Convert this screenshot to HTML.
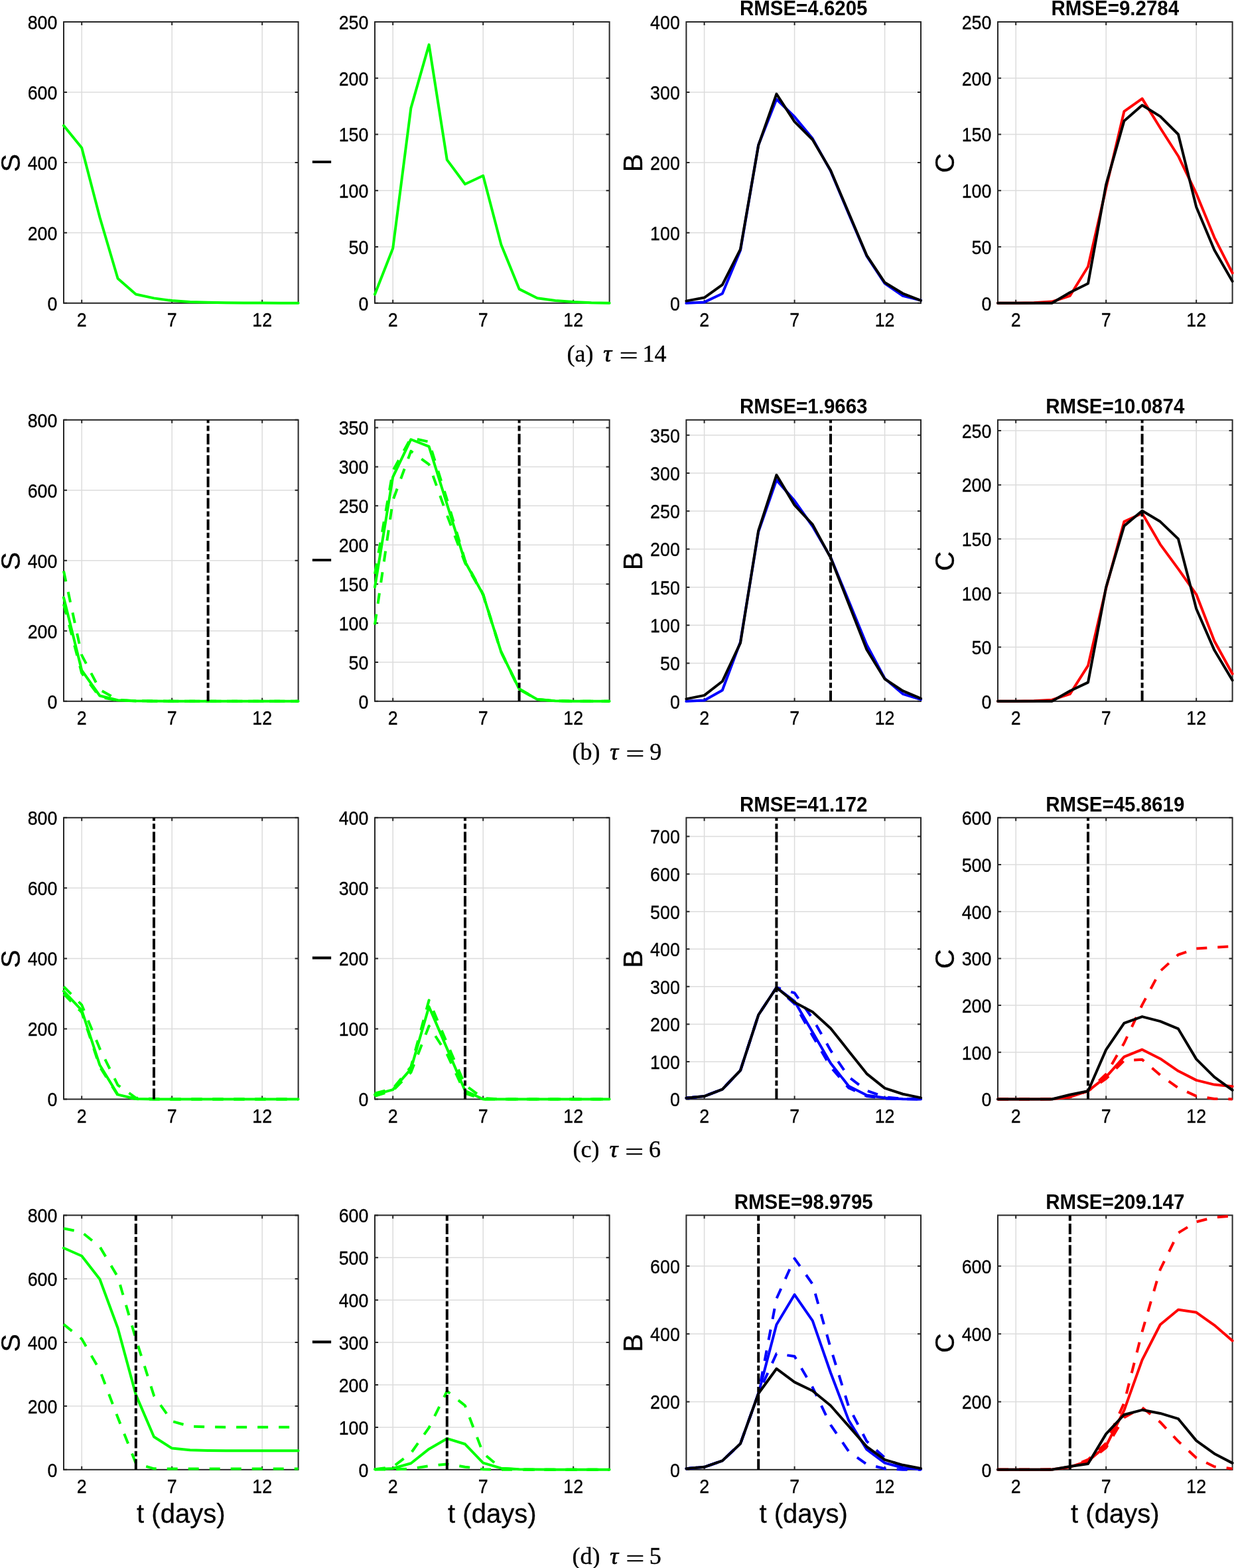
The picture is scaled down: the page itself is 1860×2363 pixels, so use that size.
<!DOCTYPE html>
<html><head><meta charset="utf-8"><title>Figure</title><style>html,body{margin:0;padding:0;background:#fff;}svg{display:block;}</style></head><body>
<svg width="1860" height="2363" viewBox="0 0 1860 2363" font-family="'Liberation Sans', Arial, Helvetica, sans-serif"><rect width="100%" height="100%" fill="#fff"/><g stroke="#dcdcdc" stroke-width="1.5"><line x1="123.2" y1="33" x2="123.2" y2="456.8"/><line x1="259.2" y1="33" x2="259.2" y2="456.8"/><line x1="395.2" y1="33" x2="395.2" y2="456.8"/><line x1="96" y1="350.85" x2="449.6" y2="350.85"/><line x1="96" y1="244.9" x2="449.6" y2="244.9"/><line x1="96" y1="138.95" x2="449.6" y2="138.95"/></g>
<g stroke="#262626" stroke-width="2" fill="none"><rect x="96" y="33" width="353.6" height="423.8" fill="none"/><path d="M123.2 456.8v-5M123.2 33v5M259.2 456.8v-5M259.2 33v5M395.2 456.8v-5M395.2 33v5M96 456.8h5M449.6 456.8h-5M96 350.85h5M449.6 350.85h-5M96 244.9h5M449.6 244.9h-5M96 138.95h5M449.6 138.95h-5M96 33h5M449.6 33h-5"/></g>
<polyline points="96,189.28 123.2,222.86 150.4,327.54 177.6,419.72 204.8,443.56 232,449.38 259.2,453.09 286.4,454.95 313.6,455.85 340.8,456.27 368,456.48 395.2,456.59 422.4,456.64 449.6,456.64" fill="none" stroke="#00ff00" stroke-width="4" stroke-linejoin="round" stroke-linecap="round"/>
<g font-size="26.8" fill="#000" stroke="#000" stroke-width="0.3"><text transform="translate(86.4 467.6) scale(1 1.07)" text-anchor="end">0</text><text transform="translate(86.4 361.65) scale(1 1.07)" text-anchor="end">200</text><text transform="translate(86.4 255.7) scale(1 1.07)" text-anchor="end">400</text><text transform="translate(86.4 149.75) scale(1 1.07)" text-anchor="end">600</text><text transform="translate(86.4 43.8) scale(1 1.07)" text-anchor="end">800</text><text transform="translate(123.2 491.9) scale(1 1.07)" text-anchor="middle">2</text><text transform="translate(259.2 491.9) scale(1 1.07)" text-anchor="middle">7</text><text transform="translate(395.2 491.9) scale(1 1.07)" text-anchor="middle">12</text></g>
<text x="0" y="0" transform="translate(30 245.7) rotate(-90)" text-anchor="middle" font-size="41" fill="#000" stroke="#000" stroke-width="0.3">S</text>
<g stroke="#dcdcdc" stroke-width="1.5"><line x1="592.2" y1="33" x2="592.2" y2="456.8"/><line x1="728.2" y1="33" x2="728.2" y2="456.8"/><line x1="864.2" y1="33" x2="864.2" y2="456.8"/><line x1="565" y1="372.04" x2="918.6" y2="372.04"/><line x1="565" y1="287.28" x2="918.6" y2="287.28"/><line x1="565" y1="202.52" x2="918.6" y2="202.52"/><line x1="565" y1="117.76" x2="918.6" y2="117.76"/></g>
<g stroke="#262626" stroke-width="2" fill="none"><rect x="565" y="33" width="353.6" height="423.8" fill="none"/><path d="M592.2 456.8v-5M592.2 33v5M728.2 456.8v-5M728.2 33v5M864.2 456.8v-5M864.2 33v5M565 456.8h5M918.6 456.8h-5M565 372.04h5M918.6 372.04h-5M565 287.28h5M918.6 287.28h-5M565 202.52h5M918.6 202.52h-5M565 117.76h5M918.6 117.76h-5M565 33h5M918.6 33h-5"/></g>
<polyline points="565,443.58 592.2,374.24 619.4,162.85 646.6,67.41 673.8,240.83 701,277.45 728.2,264.73 755.4,368.65 782.6,435.61 809.8,449.17 837,452.9 864.2,455.1 891.4,456.29 918.6,456.63" fill="none" stroke="#00ff00" stroke-width="4" stroke-linejoin="round" stroke-linecap="round"/>
<g font-size="26.8" fill="#000" stroke="#000" stroke-width="0.3"><text transform="translate(555.4 467.6) scale(1 1.07)" text-anchor="end">0</text><text transform="translate(555.4 382.84) scale(1 1.07)" text-anchor="end">50</text><text transform="translate(555.4 298.08) scale(1 1.07)" text-anchor="end">100</text><text transform="translate(555.4 213.32) scale(1 1.07)" text-anchor="end">150</text><text transform="translate(555.4 128.56) scale(1 1.07)" text-anchor="end">200</text><text transform="translate(555.4 43.8) scale(1 1.07)" text-anchor="end">250</text><text transform="translate(592.2 491.9) scale(1 1.07)" text-anchor="middle">2</text><text transform="translate(728.2 491.9) scale(1 1.07)" text-anchor="middle">7</text><text transform="translate(864.2 491.9) scale(1 1.07)" text-anchor="middle">12</text></g>
<text x="0" y="0" transform="translate(499 244.1) rotate(-90)" text-anchor="middle" font-size="41" fill="#000" stroke="#000" stroke-width="0.3">I</text>
<g stroke="#dcdcdc" stroke-width="1.5"><line x1="1061.6" y1="33" x2="1061.6" y2="456.8"/><line x1="1197.6" y1="33" x2="1197.6" y2="456.8"/><line x1="1333.6" y1="33" x2="1333.6" y2="456.8"/><line x1="1034.4" y1="350.85" x2="1388" y2="350.85"/><line x1="1034.4" y1="244.9" x2="1388" y2="244.9"/><line x1="1034.4" y1="138.95" x2="1388" y2="138.95"/></g>
<g stroke="#262626" stroke-width="2" fill="none"><rect x="1034.4" y="33" width="353.6" height="423.8" fill="none"/><path d="M1061.6 456.8v-5M1061.6 33v5M1197.6 456.8v-5M1197.6 33v5M1333.6 456.8v-5M1333.6 33v5M1034.4 456.8h5M1388 456.8h-5M1034.4 350.85h5M1388 350.85h-5M1034.4 244.9h5M1388 244.9h-5M1034.4 138.95h5M1388 138.95h-5M1034.4 33h5M1388 33h-5"/></g>
<polyline points="1034.4,456.8 1061.6,455.42 1088.8,442.5 1116,377.34 1143.2,218.41 1170.4,149.55 1197.6,176.03 1224.8,208.88 1252,257.61 1279.2,322.24 1306.4,385.81 1333.6,427.13 1360.8,445.78 1388,452.67" fill="none" stroke="#0000ff" stroke-width="4" stroke-linejoin="round" stroke-linecap="round"/>
<polyline points="1034.4,453.62 1061.6,448.54 1088.8,429.04 1116,375.54 1143.2,218.94 1170.4,141.6 1197.6,183.45 1224.8,210.47 1252,256.77 1279.2,320.76 1306.4,384.86 1333.6,425.76 1360.8,442.28 1388,452.88" fill="none" stroke="#000000" stroke-width="4" stroke-linejoin="round" stroke-linecap="round"/>
<g font-size="26.8" fill="#000" stroke="#000" stroke-width="0.3"><text transform="translate(1024.8 467.6) scale(1 1.07)" text-anchor="end">0</text><text transform="translate(1024.8 361.65) scale(1 1.07)" text-anchor="end">100</text><text transform="translate(1024.8 255.7) scale(1 1.07)" text-anchor="end">200</text><text transform="translate(1024.8 149.75) scale(1 1.07)" text-anchor="end">300</text><text transform="translate(1024.8 43.8) scale(1 1.07)" text-anchor="end">400</text><text transform="translate(1061.6 491.9) scale(1 1.07)" text-anchor="middle">2</text><text transform="translate(1197.6 491.9) scale(1 1.07)" text-anchor="middle">7</text><text transform="translate(1333.6 491.9) scale(1 1.07)" text-anchor="middle">12</text></g>
<text x="0" y="0" transform="translate(968.4 245.7) rotate(-90)" text-anchor="middle" font-size="41" fill="#000" stroke="#000" stroke-width="0.3">B</text>
<text transform="translate(1211.2 23.2) scale(1 1.05)" text-anchor="middle" font-size="29.5" font-weight="bold" fill="#000">RMSE=4.6205</text>
<g stroke="#dcdcdc" stroke-width="1.5"><line x1="1531.2" y1="33" x2="1531.2" y2="456.8"/><line x1="1667.2" y1="33" x2="1667.2" y2="456.8"/><line x1="1803.2" y1="33" x2="1803.2" y2="456.8"/><line x1="1504" y1="372.04" x2="1857.6" y2="372.04"/><line x1="1504" y1="287.28" x2="1857.6" y2="287.28"/><line x1="1504" y1="202.52" x2="1857.6" y2="202.52"/><line x1="1504" y1="117.76" x2="1857.6" y2="117.76"/></g>
<g stroke="#262626" stroke-width="2" fill="none"><rect x="1504" y="33" width="353.6" height="423.8" fill="none"/><path d="M1531.2 456.8v-5M1531.2 33v5M1667.2 456.8v-5M1667.2 33v5M1803.2 456.8v-5M1803.2 33v5M1504 456.8h5M1857.6 456.8h-5M1504 372.04h5M1857.6 372.04h-5M1504 287.28h5M1857.6 287.28h-5M1504 202.52h5M1857.6 202.52h-5M1504 117.76h5M1857.6 117.76h-5M1504 33h5M1857.6 33h-5"/></g>
<polyline points="1504,456.8 1531.2,456.8 1558.4,456.29 1585.6,454.6 1612.8,445.78 1640,401.71 1667.2,283.38 1694.4,167.77 1721.6,148.61 1748.8,192.69 1776,235.24 1803.2,291.69 1830.4,357.8 1857.6,411.37" fill="none" stroke="#ff0000" stroke-width="4" stroke-linejoin="round" stroke-linecap="round"/>
<polyline points="1504,456.8 1531.2,456.8 1558.4,456.8 1585.6,456.8 1612.8,440.7 1640,427.3 1667.2,277.96 1694.4,182.18 1721.6,158.44 1748.8,175.4 1776,202.52 1803.2,312.03 1830.4,376.79 1857.6,423.91" fill="none" stroke="#000000" stroke-width="4" stroke-linejoin="round" stroke-linecap="round"/>
<g font-size="26.8" fill="#000" stroke="#000" stroke-width="0.3"><text transform="translate(1494.4 467.6) scale(1 1.07)" text-anchor="end">0</text><text transform="translate(1494.4 382.84) scale(1 1.07)" text-anchor="end">50</text><text transform="translate(1494.4 298.08) scale(1 1.07)" text-anchor="end">100</text><text transform="translate(1494.4 213.32) scale(1 1.07)" text-anchor="end">150</text><text transform="translate(1494.4 128.56) scale(1 1.07)" text-anchor="end">200</text><text transform="translate(1494.4 43.8) scale(1 1.07)" text-anchor="end">250</text><text transform="translate(1531.2 491.9) scale(1 1.07)" text-anchor="middle">2</text><text transform="translate(1667.2 491.9) scale(1 1.07)" text-anchor="middle">7</text><text transform="translate(1803.2 491.9) scale(1 1.07)" text-anchor="middle">12</text></g>
<text x="0" y="0" transform="translate(1438 245.7) rotate(-90)" text-anchor="middle" font-size="41" fill="#000" stroke="#000" stroke-width="0.3">C</text>
<text transform="translate(1680.8 23.2) scale(1 1.05)" text-anchor="middle" font-size="29.5" font-weight="bold" fill="#000">RMSE=9.2784</text>
<g stroke="#dcdcdc" stroke-width="1.5"><line x1="123.2" y1="632.8" x2="123.2" y2="1056.8"/><line x1="259.2" y1="632.8" x2="259.2" y2="1056.8"/><line x1="395.2" y1="632.8" x2="395.2" y2="1056.8"/><line x1="96" y1="950.8" x2="449.6" y2="950.8"/><line x1="96" y1="844.8" x2="449.6" y2="844.8"/><line x1="96" y1="738.8" x2="449.6" y2="738.8"/></g>
<g stroke="#262626" stroke-width="2" fill="none"><rect x="96" y="632.8" width="353.6" height="424" fill="none"/><path d="M123.2 1056.8v-5M123.2 632.8v5M259.2 1056.8v-5M259.2 632.8v5M395.2 1056.8v-5M395.2 632.8v5M96 1056.8h5M449.6 1056.8h-5M96 950.8h5M449.6 950.8h-5M96 844.8h5M449.6 844.8h-5M96 738.8h5M449.6 738.8h-5M96 632.8h5M449.6 632.8h-5"/></g>
<polyline points="96,860.7 123.2,987.37 150.4,1039.31 177.6,1054.68 204.8,1056.27 232,1056.53 259.2,1056.64 286.4,1056.69 313.6,1056.75 340.8,1056.8 368,1056.8 395.2,1056.8 422.4,1056.8 449.6,1056.8" fill="none" stroke="#00ff00" stroke-width="4" stroke-linejoin="round" stroke-dasharray="16 16"/>
<polyline points="96,910.52 123.2,1014.4 150.4,1050.44 177.6,1055.47 204.8,1056.38 232,1056.64 259.2,1056.69 286.4,1056.75 313.6,1056.8 340.8,1056.8 368,1056.8 395.2,1056.8 422.4,1056.8 449.6,1056.8" fill="none" stroke="#00ff00" stroke-width="4" stroke-linejoin="round" stroke-dasharray="16 16"/>
<polyline points="96,900.45 123.2,1010.16 150.4,1048.48 177.6,1055.21 204.8,1056.27 232,1056.53 259.2,1056.64 286.4,1056.69 313.6,1056.75 340.8,1056.8 368,1056.8 395.2,1056.8 422.4,1056.8 449.6,1056.8" fill="none" stroke="#00ff00" stroke-width="4" stroke-linejoin="round" stroke-linecap="round"/>
<line x1="313.6" y1="1056.8" x2="313.6" y2="632.8" stroke="#000" stroke-width="4" stroke-dasharray="16 4.13 8 4.13"/>
<g font-size="26.8" fill="#000" stroke="#000" stroke-width="0.3"><text transform="translate(86.4 1067.6) scale(1 1.07)" text-anchor="end">0</text><text transform="translate(86.4 961.6) scale(1 1.07)" text-anchor="end">200</text><text transform="translate(86.4 855.6) scale(1 1.07)" text-anchor="end">400</text><text transform="translate(86.4 749.6) scale(1 1.07)" text-anchor="end">600</text><text transform="translate(86.4 643.6) scale(1 1.07)" text-anchor="end">800</text><text transform="translate(123.2 1091.9) scale(1 1.07)" text-anchor="middle">2</text><text transform="translate(259.2 1091.9) scale(1 1.07)" text-anchor="middle">7</text><text transform="translate(395.2 1091.9) scale(1 1.07)" text-anchor="middle">12</text></g>
<text x="0" y="0" transform="translate(30 845.6) rotate(-90)" text-anchor="middle" font-size="41" fill="#000" stroke="#000" stroke-width="0.3">S</text>
<g stroke="#dcdcdc" stroke-width="1.5"><line x1="592.2" y1="632.8" x2="592.2" y2="1056.8"/><line x1="728.2" y1="632.8" x2="728.2" y2="1056.8"/><line x1="864.2" y1="632.8" x2="864.2" y2="1056.8"/><line x1="565" y1="997.91" x2="918.6" y2="997.91"/><line x1="565" y1="939.02" x2="918.6" y2="939.02"/><line x1="565" y1="880.13" x2="918.6" y2="880.13"/><line x1="565" y1="821.24" x2="918.6" y2="821.24"/><line x1="565" y1="762.36" x2="918.6" y2="762.36"/><line x1="565" y1="703.47" x2="918.6" y2="703.47"/><line x1="565" y1="644.58" x2="918.6" y2="644.58"/></g>
<g stroke="#262626" stroke-width="2" fill="none"><rect x="565" y="632.8" width="353.6" height="424" fill="none"/><path d="M592.2 1056.8v-5M592.2 632.8v5M728.2 1056.8v-5M728.2 632.8v5M864.2 1056.8v-5M864.2 632.8v5M565 1056.8h5M918.6 1056.8h-5M565 997.91h5M918.6 997.91h-5M565 939.02h5M918.6 939.02h-5M565 880.13h5M918.6 880.13h-5M565 821.24h5M918.6 821.24h-5M565 762.36h5M918.6 762.36h-5M565 703.47h5M918.6 703.47h-5M565 644.58h5M918.6 644.58h-5"/></g>
<polyline points="565,864.82 592.2,709.36 619.4,659.89 646.6,665.78 673.8,752.93 701,844.8 728.2,895.44 755.4,982.01 782.6,1037.96 809.8,1053.86 837,1056.21 864.2,1056.68 891.4,1056.8 918.6,1056.8" fill="none" stroke="#00ff00" stroke-width="4" stroke-linejoin="round" stroke-dasharray="16 16"/>
<polyline points="565,941.38 592.2,754.11 619.4,679.91 646.6,699.93 673.8,776.49 701,848.33 728.2,896.62 755.4,983.19 782.6,1038.9 809.8,1054.21 837,1056.21 864.2,1056.68 891.4,1056.8 918.6,1056.8" fill="none" stroke="#00ff00" stroke-width="4" stroke-linejoin="round" stroke-dasharray="16 16"/>
<polyline points="565,884.84 592.2,718.78 619.4,662.24 646.6,672.84 673.8,760 701,846.57 728.2,896.03 755.4,982.6 782.6,1038.43 809.8,1054.09 837,1056.21 864.2,1056.68 891.4,1056.8 918.6,1056.8" fill="none" stroke="#00ff00" stroke-width="4" stroke-linejoin="round" stroke-linecap="round"/>
<line x1="782.6" y1="1056.8" x2="782.6" y2="632.8" stroke="#000" stroke-width="4" stroke-dasharray="16 4.13 8 4.13"/>
<g font-size="26.8" fill="#000" stroke="#000" stroke-width="0.3"><text transform="translate(555.4 1067.6) scale(1 1.07)" text-anchor="end">0</text><text transform="translate(555.4 1008.71) scale(1 1.07)" text-anchor="end">50</text><text transform="translate(555.4 949.82) scale(1 1.07)" text-anchor="end">100</text><text transform="translate(555.4 890.93) scale(1 1.07)" text-anchor="end">150</text><text transform="translate(555.4 832.04) scale(1 1.07)" text-anchor="end">200</text><text transform="translate(555.4 773.16) scale(1 1.07)" text-anchor="end">250</text><text transform="translate(555.4 714.27) scale(1 1.07)" text-anchor="end">300</text><text transform="translate(555.4 655.38) scale(1 1.07)" text-anchor="end">350</text><text transform="translate(592.2 1091.9) scale(1 1.07)" text-anchor="middle">2</text><text transform="translate(728.2 1091.9) scale(1 1.07)" text-anchor="middle">7</text><text transform="translate(864.2 1091.9) scale(1 1.07)" text-anchor="middle">12</text></g>
<text x="0" y="0" transform="translate(499 844) rotate(-90)" text-anchor="middle" font-size="41" fill="#000" stroke="#000" stroke-width="0.3">I</text>
<g stroke="#dcdcdc" stroke-width="1.5"><line x1="1061.6" y1="632.8" x2="1061.6" y2="1056.8"/><line x1="1197.6" y1="632.8" x2="1197.6" y2="1056.8"/><line x1="1333.6" y1="632.8" x2="1333.6" y2="1056.8"/><line x1="1034.4" y1="999.5" x2="1388" y2="999.5"/><line x1="1034.4" y1="942.21" x2="1388" y2="942.21"/><line x1="1034.4" y1="884.91" x2="1388" y2="884.91"/><line x1="1034.4" y1="827.61" x2="1388" y2="827.61"/><line x1="1034.4" y1="770.31" x2="1388" y2="770.31"/><line x1="1034.4" y1="713.02" x2="1388" y2="713.02"/><line x1="1034.4" y1="655.72" x2="1388" y2="655.72"/></g>
<g stroke="#262626" stroke-width="2" fill="none"><rect x="1034.4" y="632.8" width="353.6" height="424" fill="none"/><path d="M1061.6 1056.8v-5M1061.6 632.8v5M1197.6 1056.8v-5M1197.6 632.8v5M1333.6 1056.8v-5M1333.6 632.8v5M1034.4 1056.8h5M1388 1056.8h-5M1034.4 999.5h5M1388 999.5h-5M1034.4 942.21h5M1388 942.21h-5M1034.4 884.91h5M1388 884.91h-5M1034.4 827.61h5M1388 827.61h-5M1034.4 770.31h5M1388 770.31h-5M1034.4 713.02h5M1388 713.02h-5M1034.4 655.72h5M1388 655.72h-5"/></g>
<polyline points="1034.4,1056.8 1061.6,1055.42 1088.8,1040.3 1116,967.42 1143.2,801.25 1170.4,723.33 1197.6,754.61 1224.8,793.23 1252,839.76 1279.2,905.54 1306.4,971.66 1333.6,1022.42 1360.8,1045.8 1388,1054.05" fill="none" stroke="#0000ff" stroke-width="4" stroke-linejoin="round" stroke-linecap="round"/>
<polyline points="1034.4,1053.36 1061.6,1047.86 1088.8,1026.78 1116,968.91 1143.2,799.54 1170.4,715.88 1197.6,761.15 1224.8,790.37 1252,840.45 1279.2,909.66 1306.4,978.99 1333.6,1023.22 1360.8,1041.1 1388,1052.56" fill="none" stroke="#000000" stroke-width="4" stroke-linejoin="round" stroke-linecap="round"/>
<line x1="1252" y1="1056.8" x2="1252" y2="632.8" stroke="#000" stroke-width="4" stroke-dasharray="16 4.13 8 4.13"/>
<g font-size="26.8" fill="#000" stroke="#000" stroke-width="0.3"><text transform="translate(1024.8 1067.6) scale(1 1.07)" text-anchor="end">0</text><text transform="translate(1024.8 1010.3) scale(1 1.07)" text-anchor="end">50</text><text transform="translate(1024.8 953.01) scale(1 1.07)" text-anchor="end">100</text><text transform="translate(1024.8 895.71) scale(1 1.07)" text-anchor="end">150</text><text transform="translate(1024.8 838.41) scale(1 1.07)" text-anchor="end">200</text><text transform="translate(1024.8 781.11) scale(1 1.07)" text-anchor="end">250</text><text transform="translate(1024.8 723.82) scale(1 1.07)" text-anchor="end">300</text><text transform="translate(1024.8 666.52) scale(1 1.07)" text-anchor="end">350</text><text transform="translate(1061.6 1091.9) scale(1 1.07)" text-anchor="middle">2</text><text transform="translate(1197.6 1091.9) scale(1 1.07)" text-anchor="middle">7</text><text transform="translate(1333.6 1091.9) scale(1 1.07)" text-anchor="middle">12</text></g>
<text x="0" y="0" transform="translate(968.4 845.6) rotate(-90)" text-anchor="middle" font-size="41" fill="#000" stroke="#000" stroke-width="0.3">B</text>
<text transform="translate(1211.2 623) scale(1 1.05)" text-anchor="middle" font-size="29.5" font-weight="bold" fill="#000">RMSE=1.9663</text>
<g stroke="#dcdcdc" stroke-width="1.5"><line x1="1531.2" y1="632.8" x2="1531.2" y2="1056.8"/><line x1="1667.2" y1="632.8" x2="1667.2" y2="1056.8"/><line x1="1803.2" y1="632.8" x2="1803.2" y2="1056.8"/><line x1="1504" y1="975.26" x2="1857.6" y2="975.26"/><line x1="1504" y1="893.72" x2="1857.6" y2="893.72"/><line x1="1504" y1="812.18" x2="1857.6" y2="812.18"/><line x1="1504" y1="730.65" x2="1857.6" y2="730.65"/><line x1="1504" y1="649.11" x2="1857.6" y2="649.11"/></g>
<g stroke="#262626" stroke-width="2" fill="none"><rect x="1504" y="632.8" width="353.6" height="424" fill="none"/><path d="M1531.2 1056.8v-5M1531.2 632.8v5M1667.2 1056.8v-5M1667.2 632.8v5M1803.2 1056.8v-5M1803.2 632.8v5M1504 1056.8h5M1857.6 1056.8h-5M1504 975.26h5M1857.6 975.26h-5M1504 893.72h5M1857.6 893.72h-5M1504 812.18h5M1857.6 812.18h-5M1504 730.65h5M1857.6 730.65h-5M1504 649.11h5M1857.6 649.11h-5"/></g>
<polyline points="1504,1056.8 1531.2,1056.8 1558.4,1056.31 1585.6,1054.68 1612.8,1045.87 1640,1003.15 1667.2,886.22 1694.4,786.09 1721.6,773.54 1748.8,820.34 1776,857.36 1803.2,895.84 1830.4,965.97 1857.6,1015.54" fill="none" stroke="#ff0000" stroke-width="4" stroke-linejoin="round" stroke-linecap="round"/>
<polyline points="1504,1056.8 1531.2,1056.8 1558.4,1056.8 1585.6,1056.8 1612.8,1041.31 1640,1028.42 1667.2,884.75 1694.4,792.62 1721.6,769.78 1748.8,786.09 1776,812.18 1803.2,917.53 1830.4,979.83 1857.6,1025.16" fill="none" stroke="#000000" stroke-width="4" stroke-linejoin="round" stroke-linecap="round"/>
<line x1="1721.6" y1="1056.8" x2="1721.6" y2="632.8" stroke="#000" stroke-width="4" stroke-dasharray="16 4.13 8 4.13"/>
<g font-size="26.8" fill="#000" stroke="#000" stroke-width="0.3"><text transform="translate(1494.4 1067.6) scale(1 1.07)" text-anchor="end">0</text><text transform="translate(1494.4 986.06) scale(1 1.07)" text-anchor="end">50</text><text transform="translate(1494.4 904.52) scale(1 1.07)" text-anchor="end">100</text><text transform="translate(1494.4 822.98) scale(1 1.07)" text-anchor="end">150</text><text transform="translate(1494.4 741.45) scale(1 1.07)" text-anchor="end">200</text><text transform="translate(1494.4 659.91) scale(1 1.07)" text-anchor="end">250</text><text transform="translate(1531.2 1091.9) scale(1 1.07)" text-anchor="middle">2</text><text transform="translate(1667.2 1091.9) scale(1 1.07)" text-anchor="middle">7</text><text transform="translate(1803.2 1091.9) scale(1 1.07)" text-anchor="middle">12</text></g>
<text x="0" y="0" transform="translate(1438 845.6) rotate(-90)" text-anchor="middle" font-size="41" fill="#000" stroke="#000" stroke-width="0.3">C</text>
<text transform="translate(1680.8 623) scale(1 1.05)" text-anchor="middle" font-size="29.5" font-weight="bold" fill="#000">RMSE=10.0874</text>
<g stroke="#dcdcdc" stroke-width="1.5"><line x1="123.2" y1="1232.3" x2="123.2" y2="1656.5"/><line x1="259.2" y1="1232.3" x2="259.2" y2="1656.5"/><line x1="395.2" y1="1232.3" x2="395.2" y2="1656.5"/><line x1="96" y1="1550.45" x2="449.6" y2="1550.45"/><line x1="96" y1="1444.4" x2="449.6" y2="1444.4"/><line x1="96" y1="1338.35" x2="449.6" y2="1338.35"/></g>
<g stroke="#262626" stroke-width="2" fill="none"><rect x="96" y="1232.3" width="353.6" height="424.2" fill="none"/><path d="M123.2 1656.5v-5M123.2 1232.3v5M259.2 1656.5v-5M259.2 1232.3v5M395.2 1656.5v-5M395.2 1232.3v5M96 1656.5h5M449.6 1656.5h-5M96 1550.45h5M449.6 1550.45h-5M96 1444.4h5M449.6 1444.4h-5M96 1338.35h5M449.6 1338.35h-5M96 1232.3h5M449.6 1232.3h-5"/></g>
<polyline points="96,1486.82 123.2,1514.39 150.4,1580.3 177.6,1635.29 204.8,1654.59 232,1656.23 259.2,1656.5 286.4,1656.5 313.6,1656.5 340.8,1656.5 368,1656.5 395.2,1656.5 422.4,1656.5 449.6,1656.5" fill="none" stroke="#00ff00" stroke-width="4" stroke-linejoin="round" stroke-dasharray="16 16"/>
<polyline points="96,1497.96 123.2,1525.53 150.4,1607.72 177.6,1650.67 204.8,1656.08 232,1656.5 259.2,1656.5 286.4,1656.5 313.6,1656.5 340.8,1656.5 368,1656.5 395.2,1656.5 422.4,1656.5 449.6,1656.5" fill="none" stroke="#00ff00" stroke-width="4" stroke-linejoin="round" stroke-dasharray="16 16"/>
<polyline points="96,1493.71 123.2,1522.51 150.4,1605.07 177.6,1649.61 204.8,1655.97 232,1656.5 259.2,1656.5 286.4,1656.5 313.6,1656.5 340.8,1656.5 368,1656.5 395.2,1656.5 422.4,1656.5 449.6,1656.5" fill="none" stroke="#00ff00" stroke-width="4" stroke-linejoin="round" stroke-linecap="round"/>
<line x1="232" y1="1656.5" x2="232" y2="1232.3" stroke="#000" stroke-width="4" stroke-dasharray="16 4.13 8 4.13"/>
<g font-size="26.8" fill="#000" stroke="#000" stroke-width="0.3"><text transform="translate(86.4 1667.3) scale(1 1.07)" text-anchor="end">0</text><text transform="translate(86.4 1561.25) scale(1 1.07)" text-anchor="end">200</text><text transform="translate(86.4 1455.2) scale(1 1.07)" text-anchor="end">400</text><text transform="translate(86.4 1349.15) scale(1 1.07)" text-anchor="end">600</text><text transform="translate(86.4 1243.1) scale(1 1.07)" text-anchor="end">800</text><text transform="translate(123.2 1691.6) scale(1 1.07)" text-anchor="middle">2</text><text transform="translate(259.2 1691.6) scale(1 1.07)" text-anchor="middle">7</text><text transform="translate(395.2 1691.6) scale(1 1.07)" text-anchor="middle">12</text></g>
<text x="0" y="0" transform="translate(30 1445.2) rotate(-90)" text-anchor="middle" font-size="41" fill="#000" stroke="#000" stroke-width="0.3">S</text>
<g stroke="#dcdcdc" stroke-width="1.5"><line x1="592.2" y1="1232.3" x2="592.2" y2="1656.5"/><line x1="728.2" y1="1232.3" x2="728.2" y2="1656.5"/><line x1="864.2" y1="1232.3" x2="864.2" y2="1656.5"/><line x1="565" y1="1550.45" x2="918.6" y2="1550.45"/><line x1="565" y1="1444.4" x2="918.6" y2="1444.4"/><line x1="565" y1="1338.35" x2="918.6" y2="1338.35"/></g>
<g stroke="#262626" stroke-width="2" fill="none"><rect x="565" y="1232.3" width="353.6" height="424.2" fill="none"/><path d="M592.2 1656.5v-5M592.2 1232.3v5M728.2 1656.5v-5M728.2 1232.3v5M864.2 1656.5v-5M864.2 1232.3v5M565 1656.5h5M918.6 1656.5h-5M565 1550.45h5M918.6 1550.45h-5M565 1444.4h5M918.6 1444.4h-5M565 1338.35h5M918.6 1338.35h-5M565 1232.3h5M918.6 1232.3h-5"/></g>
<polyline points="565,1647.7 592.2,1640.59 619.4,1607.72 646.6,1507.39 673.8,1572.08 701,1635.29 728.2,1655.12 755.4,1656.5 782.6,1656.5 809.8,1656.5 837,1656.5 864.2,1656.5 891.4,1656.5 918.6,1656.5" fill="none" stroke="#00ff00" stroke-width="4" stroke-linejoin="round" stroke-dasharray="16 16"/>
<polyline points="565,1651.83 592.2,1643.56 619.4,1616.2 646.6,1546.21 673.8,1588.63 701,1647.7 728.2,1656.5 755.4,1656.5 782.6,1656.5 809.8,1656.5 837,1656.5 864.2,1656.5 891.4,1656.5 918.6,1656.5" fill="none" stroke="#00ff00" stroke-width="4" stroke-linejoin="round" stroke-dasharray="16 16"/>
<polyline points="565,1649.61 592.2,1642.18 619.4,1610.9 646.6,1517.04 673.8,1580.14 701,1643.77 728.2,1656.5 755.4,1656.5 782.6,1656.5 809.8,1656.5 837,1656.5 864.2,1656.5 891.4,1656.5 918.6,1656.5" fill="none" stroke="#00ff00" stroke-width="4" stroke-linejoin="round" stroke-linecap="round"/>
<line x1="701" y1="1656.5" x2="701" y2="1232.3" stroke="#000" stroke-width="4" stroke-dasharray="16 4.13 8 4.13"/>
<g font-size="26.8" fill="#000" stroke="#000" stroke-width="0.3"><text transform="translate(555.4 1667.3) scale(1 1.07)" text-anchor="end">0</text><text transform="translate(555.4 1561.25) scale(1 1.07)" text-anchor="end">100</text><text transform="translate(555.4 1455.2) scale(1 1.07)" text-anchor="end">200</text><text transform="translate(555.4 1349.15) scale(1 1.07)" text-anchor="end">300</text><text transform="translate(555.4 1243.1) scale(1 1.07)" text-anchor="end">400</text><text transform="translate(592.2 1691.6) scale(1 1.07)" text-anchor="middle">2</text><text transform="translate(728.2 1691.6) scale(1 1.07)" text-anchor="middle">7</text><text transform="translate(864.2 1691.6) scale(1 1.07)" text-anchor="middle">12</text></g>
<text x="0" y="0" transform="translate(499 1443.6) rotate(-90)" text-anchor="middle" font-size="41" fill="#000" stroke="#000" stroke-width="0.3">I</text>
<g stroke="#dcdcdc" stroke-width="1.5"><line x1="1061.6" y1="1232.3" x2="1061.6" y2="1656.5"/><line x1="1197.6" y1="1232.3" x2="1197.6" y2="1656.5"/><line x1="1333.6" y1="1232.3" x2="1333.6" y2="1656.5"/><line x1="1034.4" y1="1599.94" x2="1388" y2="1599.94"/><line x1="1034.4" y1="1543.38" x2="1388" y2="1543.38"/><line x1="1034.4" y1="1486.82" x2="1388" y2="1486.82"/><line x1="1034.4" y1="1430.26" x2="1388" y2="1430.26"/><line x1="1034.4" y1="1373.7" x2="1388" y2="1373.7"/><line x1="1034.4" y1="1317.14" x2="1388" y2="1317.14"/><line x1="1034.4" y1="1260.58" x2="1388" y2="1260.58"/></g>
<g stroke="#262626" stroke-width="2" fill="none"><rect x="1034.4" y="1232.3" width="353.6" height="424.2" fill="none"/><path d="M1061.6 1656.5v-5M1061.6 1232.3v5M1197.6 1656.5v-5M1197.6 1232.3v5M1333.6 1656.5v-5M1333.6 1232.3v5M1034.4 1656.5h5M1388 1656.5h-5M1034.4 1599.94h5M1388 1599.94h-5M1034.4 1543.38h5M1388 1543.38h-5M1034.4 1486.82h5M1388 1486.82h-5M1034.4 1430.26h5M1388 1430.26h-5M1034.4 1373.7h5M1388 1373.7h-5M1034.4 1317.14h5M1388 1317.14h-5M1034.4 1260.58h5M1388 1260.58h-5"/></g>
<polyline points="1034.4,1654.8 1061.6,1652.09 1088.8,1641.68 1116,1613.12 1143.2,1529.52 1170.4,1488.23 1197.6,1496.44 1224.8,1534.9 1252,1582.97 1279.2,1622.96 1306.4,1643.55 1333.6,1653.22 1360.8,1655.93 1388,1656.39" fill="none" stroke="#0000ff" stroke-width="4" stroke-linejoin="round" stroke-dasharray="16 16"/>
<polyline points="1034.4,1654.8 1061.6,1652.09 1088.8,1641.68 1116,1613.12 1143.2,1529.52 1170.4,1488.23 1197.6,1512.84 1224.8,1560.91 1252,1607.86 1279.2,1639.53 1306.4,1651.98 1333.6,1655.37 1360.8,1656.33 1388,1656.5" fill="none" stroke="#0000ff" stroke-width="4" stroke-linejoin="round" stroke-dasharray="16 16"/>
<polyline points="1034.4,1654.8 1061.6,1652.09 1088.8,1641.68 1116,1613.12 1143.2,1529.52 1170.4,1488.23 1197.6,1508.88 1224.8,1555.54 1252,1602.32 1279.2,1636.7 1306.4,1650.45 1333.6,1654.58 1360.8,1656.22 1388,1656.39" fill="none" stroke="#0000ff" stroke-width="4" stroke-linejoin="round" stroke-linecap="round"/>
<polyline points="1034.4,1654.8 1061.6,1652.09 1088.8,1641.68 1116,1613.12 1143.2,1529.52 1170.4,1488.23 1197.6,1510.58 1224.8,1525 1252,1549.71 1279.2,1583.88 1306.4,1618.1 1333.6,1639.93 1360.8,1648.75 1388,1654.41" fill="none" stroke="#000000" stroke-width="4" stroke-linejoin="round" stroke-linecap="round"/>
<line x1="1170.4" y1="1656.5" x2="1170.4" y2="1232.3" stroke="#000" stroke-width="4" stroke-dasharray="16 4.13 8 4.13"/>
<g font-size="26.8" fill="#000" stroke="#000" stroke-width="0.3"><text transform="translate(1024.8 1667.3) scale(1 1.07)" text-anchor="end">0</text><text transform="translate(1024.8 1610.74) scale(1 1.07)" text-anchor="end">100</text><text transform="translate(1024.8 1554.18) scale(1 1.07)" text-anchor="end">200</text><text transform="translate(1024.8 1497.62) scale(1 1.07)" text-anchor="end">300</text><text transform="translate(1024.8 1441.06) scale(1 1.07)" text-anchor="end">400</text><text transform="translate(1024.8 1384.5) scale(1 1.07)" text-anchor="end">500</text><text transform="translate(1024.8 1327.94) scale(1 1.07)" text-anchor="end">600</text><text transform="translate(1024.8 1271.38) scale(1 1.07)" text-anchor="end">700</text><text transform="translate(1061.6 1691.6) scale(1 1.07)" text-anchor="middle">2</text><text transform="translate(1197.6 1691.6) scale(1 1.07)" text-anchor="middle">7</text><text transform="translate(1333.6 1691.6) scale(1 1.07)" text-anchor="middle">12</text></g>
<text x="0" y="0" transform="translate(968.4 1445.2) rotate(-90)" text-anchor="middle" font-size="41" fill="#000" stroke="#000" stroke-width="0.3">B</text>
<text transform="translate(1211.2 1222.5) scale(1 1.05)" text-anchor="middle" font-size="29.5" font-weight="bold" fill="#000">RMSE=41.172</text>
<g stroke="#dcdcdc" stroke-width="1.5"><line x1="1531.2" y1="1232.3" x2="1531.2" y2="1656.5"/><line x1="1667.2" y1="1232.3" x2="1667.2" y2="1656.5"/><line x1="1803.2" y1="1232.3" x2="1803.2" y2="1656.5"/><line x1="1504" y1="1585.8" x2="1857.6" y2="1585.8"/><line x1="1504" y1="1515.1" x2="1857.6" y2="1515.1"/><line x1="1504" y1="1444.4" x2="1857.6" y2="1444.4"/><line x1="1504" y1="1373.7" x2="1857.6" y2="1373.7"/><line x1="1504" y1="1303" x2="1857.6" y2="1303"/></g>
<g stroke="#262626" stroke-width="2" fill="none"><rect x="1504" y="1232.3" width="353.6" height="424.2" fill="none"/><path d="M1531.2 1656.5v-5M1531.2 1232.3v5M1667.2 1656.5v-5M1667.2 1232.3v5M1803.2 1656.5v-5M1803.2 1232.3v5M1504 1656.5h5M1857.6 1656.5h-5M1504 1585.8h5M1857.6 1585.8h-5M1504 1515.1h5M1857.6 1515.1h-5M1504 1444.4h5M1857.6 1444.4h-5M1504 1373.7h5M1857.6 1373.7h-5M1504 1303h5M1857.6 1303h-5M1504 1232.3h5M1857.6 1232.3h-5"/></g>
<polyline points="1504,1656.5 1531.2,1656.5 1558.4,1656.5 1585.6,1656.15 1612.8,1653.18 1640,1644.13 1667.2,1618.82 1694.4,1572.01 1721.6,1514.39 1748.8,1463.49 1776,1438.74 1803.2,1429.55 1830.4,1427.64 1857.6,1426.23" fill="none" stroke="#ff0000" stroke-width="4" stroke-linejoin="round" stroke-dasharray="16 16"/>
<polyline points="1504,1656.5 1531.2,1656.5 1558.4,1656.5 1585.6,1656.15 1612.8,1653.18 1640,1644.13 1667.2,1625.67 1694.4,1598.17 1721.6,1596.83 1748.8,1620.16 1776,1639.53 1803.2,1651.83 1830.4,1655.93 1857.6,1656.5" fill="none" stroke="#ff0000" stroke-width="4" stroke-linejoin="round" stroke-dasharray="16 16"/>
<polyline points="1504,1656.5 1531.2,1656.5 1558.4,1656.5 1585.6,1656.15 1612.8,1653.18 1640,1644.13 1667.2,1622.92 1694.4,1592.66 1721.6,1581.7 1748.8,1595.42 1776,1614.08 1803.2,1627.87 1830.4,1634.58 1857.6,1637.27" fill="none" stroke="#ff0000" stroke-width="4" stroke-linejoin="round" stroke-linecap="round"/>
<polyline points="1504,1656.5 1531.2,1656.5 1558.4,1656.5 1585.6,1656.5 1612.8,1649.78 1640,1644.2 1667.2,1581.91 1694.4,1541.97 1721.6,1532.07 1748.8,1539.14 1776,1550.45 1803.2,1596.12 1830.4,1623.13 1857.6,1642.78" fill="none" stroke="#000000" stroke-width="4" stroke-linejoin="round" stroke-linecap="round"/>
<line x1="1640" y1="1656.5" x2="1640" y2="1232.3" stroke="#000" stroke-width="4" stroke-dasharray="16 4.13 8 4.13"/>
<g font-size="26.8" fill="#000" stroke="#000" stroke-width="0.3"><text transform="translate(1494.4 1667.3) scale(1 1.07)" text-anchor="end">0</text><text transform="translate(1494.4 1596.6) scale(1 1.07)" text-anchor="end">100</text><text transform="translate(1494.4 1525.9) scale(1 1.07)" text-anchor="end">200</text><text transform="translate(1494.4 1455.2) scale(1 1.07)" text-anchor="end">300</text><text transform="translate(1494.4 1384.5) scale(1 1.07)" text-anchor="end">400</text><text transform="translate(1494.4 1313.8) scale(1 1.07)" text-anchor="end">500</text><text transform="translate(1494.4 1243.1) scale(1 1.07)" text-anchor="end">600</text><text transform="translate(1531.2 1691.6) scale(1 1.07)" text-anchor="middle">2</text><text transform="translate(1667.2 1691.6) scale(1 1.07)" text-anchor="middle">7</text><text transform="translate(1803.2 1691.6) scale(1 1.07)" text-anchor="middle">12</text></g>
<text x="0" y="0" transform="translate(1438 1445.2) rotate(-90)" text-anchor="middle" font-size="41" fill="#000" stroke="#000" stroke-width="0.3">C</text>
<text transform="translate(1680.8 1222.5) scale(1 1.05)" text-anchor="middle" font-size="29.5" font-weight="bold" fill="#000">RMSE=45.8619</text>
<g stroke="#dcdcdc" stroke-width="1.5"><line x1="123.2" y1="1831.4" x2="123.2" y2="2214.8"/><line x1="259.2" y1="1831.4" x2="259.2" y2="2214.8"/><line x1="395.2" y1="1831.4" x2="395.2" y2="2214.8"/><line x1="96" y1="2118.95" x2="449.6" y2="2118.95"/><line x1="96" y1="2023.1" x2="449.6" y2="2023.1"/><line x1="96" y1="1927.25" x2="449.6" y2="1927.25"/></g>
<g stroke="#262626" stroke-width="2" fill="none"><rect x="96" y="1831.4" width="353.6" height="383.4" fill="none"/><path d="M123.2 2214.8v-5M123.2 1831.4v5M259.2 2214.8v-5M259.2 1831.4v5M395.2 2214.8v-5M395.2 1831.4v5M96 2214.8h5M449.6 2214.8h-5M96 2118.95h5M449.6 2118.95h-5M96 2023.1h5M449.6 2023.1h-5M96 1927.25h5M449.6 1927.25h-5M96 1831.4h5M449.6 1831.4h-5"/></g>
<polyline points="96,1851.24 123.2,1856.8 150.4,1878.85 177.6,1924.37 204.8,2017.83 232,2103.23 259.2,2141.81 286.4,2149.53 313.6,2150.48 340.8,2150.68 368,2150.72 395.2,2150.72 422.4,2150.72 449.6,2150.72" fill="none" stroke="#00ff00" stroke-width="4" stroke-linejoin="round" stroke-dasharray="16 16"/>
<polyline points="96,1995.78 123.2,2017.83 150.4,2064.79 177.6,2136.3 204.8,2205.22 232,2213.36 259.2,2213.41 286.4,2213.41 313.6,2213.41 340.8,2213.41 368,2213.41 395.2,2213.41 422.4,2213.41 449.6,2213.41" fill="none" stroke="#00ff00" stroke-width="4" stroke-linejoin="round" stroke-dasharray="16 16"/>
<polyline points="96,1880.76 123.2,1892.74 150.4,1927.73 177.6,2001.53 204.8,2101.89 232,2165.25 259.2,2182.59 286.4,2185.33 313.6,2186.05 340.8,2186.19 368,2186.19 395.2,2186.19 422.4,2186.19 449.6,2186.19" fill="none" stroke="#00ff00" stroke-width="4" stroke-linejoin="round" stroke-linecap="round"/>
<line x1="204.8" y1="2214.8" x2="204.8" y2="1831.4" stroke="#000" stroke-width="4" stroke-dasharray="16 4.13 8 4.13"/>
<g font-size="26.8" fill="#000" stroke="#000" stroke-width="0.3"><text transform="translate(86.4 2225.6) scale(1 1.07)" text-anchor="end">0</text><text transform="translate(86.4 2129.75) scale(1 1.07)" text-anchor="end">200</text><text transform="translate(86.4 2033.9) scale(1 1.07)" text-anchor="end">400</text><text transform="translate(86.4 1938.05) scale(1 1.07)" text-anchor="end">600</text><text transform="translate(86.4 1842.2) scale(1 1.07)" text-anchor="end">800</text><text transform="translate(123.2 2249.9) scale(1 1.07)" text-anchor="middle">2</text><text transform="translate(259.2 2249.9) scale(1 1.07)" text-anchor="middle">7</text><text transform="translate(395.2 2249.9) scale(1 1.07)" text-anchor="middle">12</text></g>
<text x="0" y="0" transform="translate(30 2023.9) rotate(-90)" text-anchor="middle" font-size="41" fill="#000" stroke="#000" stroke-width="0.3">S</text>
<text x="272.8" y="2295" text-anchor="middle" font-size="40" fill="#000" stroke="#000" stroke-width="0.3">t (days)</text>
<g stroke="#dcdcdc" stroke-width="1.5"><line x1="592.2" y1="1831.4" x2="592.2" y2="2214.8"/><line x1="728.2" y1="1831.4" x2="728.2" y2="2214.8"/><line x1="864.2" y1="1831.4" x2="864.2" y2="2214.8"/><line x1="565" y1="2150.9" x2="918.6" y2="2150.9"/><line x1="565" y1="2087" x2="918.6" y2="2087"/><line x1="565" y1="2023.1" x2="918.6" y2="2023.1"/><line x1="565" y1="1959.2" x2="918.6" y2="1959.2"/><line x1="565" y1="1895.3" x2="918.6" y2="1895.3"/></g>
<g stroke="#262626" stroke-width="2" fill="none"><rect x="565" y="1831.4" width="353.6" height="383.4" fill="none"/><path d="M592.2 2214.8v-5M592.2 1831.4v5M728.2 2214.8v-5M728.2 1831.4v5M864.2 2214.8v-5M864.2 1831.4v5M565 2214.8h5M918.6 2214.8h-5M565 2150.9h5M918.6 2150.9h-5M565 2087h5M918.6 2087h-5M565 2023.1h5M918.6 2023.1h-5M565 1959.2h5M918.6 1959.2h-5M565 1895.3h5M918.6 1895.3h-5M565 1831.4h5M918.6 1831.4h-5"/></g>
<polyline points="565,2214.16 592.2,2210.65 619.4,2190.01 646.6,2151.54 673.8,2096.39 701,2118.31 728.2,2190.01 755.4,2212.88 782.6,2214.48 809.8,2214.74 837,2214.8 864.2,2214.8 891.4,2214.8 918.6,2214.8" fill="none" stroke="#00ff00" stroke-width="4" stroke-linejoin="round" stroke-dasharray="16 16"/>
<polyline points="565,2214.48 592.2,2214.48 619.4,2213.52 646.6,2209.3 673.8,2206.49 701,2210.65 728.2,2214.16 755.4,2214.74 782.6,2214.8 809.8,2214.8 837,2214.8 864.2,2214.8 891.4,2214.8 918.6,2214.8" fill="none" stroke="#00ff00" stroke-width="4" stroke-linejoin="round" stroke-dasharray="16 16"/>
<polyline points="565,2214.16 592.2,2212.88 619.4,2205.22 646.6,2183.68 673.8,2167.96 701,2176.27 728.2,2204.58 755.4,2212.63 782.6,2214.16 809.8,2214.61 837,2214.74 864.2,2214.8 891.4,2214.8 918.6,2214.8" fill="none" stroke="#00ff00" stroke-width="4" stroke-linejoin="round" stroke-linecap="round"/>
<line x1="673.8" y1="2214.8" x2="673.8" y2="1831.4" stroke="#000" stroke-width="4" stroke-dasharray="16 4.13 8 4.13"/>
<g font-size="26.8" fill="#000" stroke="#000" stroke-width="0.3"><text transform="translate(555.4 2225.6) scale(1 1.07)" text-anchor="end">0</text><text transform="translate(555.4 2161.7) scale(1 1.07)" text-anchor="end">100</text><text transform="translate(555.4 2097.8) scale(1 1.07)" text-anchor="end">200</text><text transform="translate(555.4 2033.9) scale(1 1.07)" text-anchor="end">300</text><text transform="translate(555.4 1970) scale(1 1.07)" text-anchor="end">400</text><text transform="translate(555.4 1906.1) scale(1 1.07)" text-anchor="end">500</text><text transform="translate(555.4 1842.2) scale(1 1.07)" text-anchor="end">600</text><text transform="translate(592.2 2249.9) scale(1 1.07)" text-anchor="middle">2</text><text transform="translate(728.2 2249.9) scale(1 1.07)" text-anchor="middle">7</text><text transform="translate(864.2 2249.9) scale(1 1.07)" text-anchor="middle">12</text></g>
<text x="0" y="0" transform="translate(499 2022.3) rotate(-90)" text-anchor="middle" font-size="41" fill="#000" stroke="#000" stroke-width="0.3">I</text>
<text x="741.8" y="2295" text-anchor="middle" font-size="40" fill="#000" stroke="#000" stroke-width="0.3">t (days)</text>
<g stroke="#dcdcdc" stroke-width="1.5"><line x1="1061.6" y1="1831.4" x2="1061.6" y2="2214.8"/><line x1="1197.6" y1="1831.4" x2="1197.6" y2="2214.8"/><line x1="1333.6" y1="1831.4" x2="1333.6" y2="2214.8"/><line x1="1034.4" y1="2112.56" x2="1388" y2="2112.56"/><line x1="1034.4" y1="2010.32" x2="1388" y2="2010.32"/><line x1="1034.4" y1="1908.08" x2="1388" y2="1908.08"/></g>
<g stroke="#262626" stroke-width="2" fill="none"><rect x="1034.4" y="1831.4" width="353.6" height="383.4" fill="none"/><path d="M1061.6 2214.8v-5M1061.6 1831.4v5M1197.6 2214.8v-5M1197.6 1831.4v5M1333.6 2214.8v-5M1333.6 1831.4v5M1034.4 2214.8h5M1388 2214.8h-5M1034.4 2112.56h5M1388 2112.56h-5M1034.4 2010.32h5M1388 2010.32h-5M1034.4 1908.08h5M1388 1908.08h-5"/></g>
<polyline points="1034.4,2213.27 1061.6,2210.81 1088.8,2201.41 1116,2175.59 1143.2,2100.04 1170.4,1957.16 1197.6,1896.53 1224.8,1935.17 1252,2031.53 1279.2,2119.72 1306.4,2172.06 1333.6,2196.91 1360.8,2210.71 1388,2214.29" fill="none" stroke="#0000ff" stroke-width="4" stroke-linejoin="round" stroke-dasharray="16 16"/>
<polyline points="1034.4,2213.27 1061.6,2210.81 1088.8,2201.41 1116,2175.59 1143.2,2100.04 1170.4,2039.97 1197.6,2044.06 1224.8,2090.78 1252,2147.32 1279.2,2187.2 1306.4,2206.62 1333.6,2213.42 1360.8,2214.8 1388,2214.8" fill="none" stroke="#0000ff" stroke-width="4" stroke-linejoin="round" stroke-dasharray="16 16"/>
<polyline points="1034.4,2213.27 1061.6,2210.81 1088.8,2201.41 1116,2175.59 1143.2,2100.04 1170.4,1996.26 1197.6,1951.02 1224.8,1990.38 1252,2068.75 1279.2,2140.37 1306.4,2184.49 1333.6,2204.58 1360.8,2212.04 1388,2214.29" fill="none" stroke="#0000ff" stroke-width="4" stroke-linejoin="round" stroke-linecap="round"/>
<polyline points="1034.4,2213.27 1061.6,2210.81 1088.8,2201.41 1116,2175.59 1143.2,2100.04 1170.4,2062.72 1197.6,2082.91 1224.8,2095.95 1252,2118.29 1279.2,2149.16 1306.4,2180.09 1333.6,2199.82 1360.8,2207.8 1388,2212.91" fill="none" stroke="#000000" stroke-width="4" stroke-linejoin="round" stroke-linecap="round"/>
<line x1="1143.2" y1="2214.8" x2="1143.2" y2="1831.4" stroke="#000" stroke-width="4" stroke-dasharray="16 4.13 8 4.13"/>
<g font-size="26.8" fill="#000" stroke="#000" stroke-width="0.3"><text transform="translate(1024.8 2225.6) scale(1 1.07)" text-anchor="end">0</text><text transform="translate(1024.8 2123.36) scale(1 1.07)" text-anchor="end">200</text><text transform="translate(1024.8 2021.12) scale(1 1.07)" text-anchor="end">400</text><text transform="translate(1024.8 1918.88) scale(1 1.07)" text-anchor="end">600</text><text transform="translate(1061.6 2249.9) scale(1 1.07)" text-anchor="middle">2</text><text transform="translate(1197.6 2249.9) scale(1 1.07)" text-anchor="middle">7</text><text transform="translate(1333.6 2249.9) scale(1 1.07)" text-anchor="middle">12</text></g>
<text x="0" y="0" transform="translate(968.4 2023.9) rotate(-90)" text-anchor="middle" font-size="41" fill="#000" stroke="#000" stroke-width="0.3">B</text>
<text transform="translate(1211.2 1821.6) scale(1 1.05)" text-anchor="middle" font-size="29.5" font-weight="bold" fill="#000">RMSE=98.9795</text>
<text x="1211.2" y="2295" text-anchor="middle" font-size="40" fill="#000" stroke="#000" stroke-width="0.3">t (days)</text>
<g stroke="#dcdcdc" stroke-width="1.5"><line x1="1531.2" y1="1831.4" x2="1531.2" y2="2214.8"/><line x1="1667.2" y1="1831.4" x2="1667.2" y2="2214.8"/><line x1="1803.2" y1="1831.4" x2="1803.2" y2="2214.8"/><line x1="1504" y1="2112.56" x2="1857.6" y2="2112.56"/><line x1="1504" y1="2010.32" x2="1857.6" y2="2010.32"/><line x1="1504" y1="1908.08" x2="1857.6" y2="1908.08"/></g>
<g stroke="#262626" stroke-width="2" fill="none"><rect x="1504" y="1831.4" width="353.6" height="383.4" fill="none"/><path d="M1531.2 2214.8v-5M1531.2 1831.4v5M1667.2 2214.8v-5M1667.2 1831.4v5M1803.2 2214.8v-5M1803.2 1831.4v5M1504 2214.8h5M1857.6 2214.8h-5M1504 2112.56h5M1857.6 2112.56h-5M1504 2010.32h5M1857.6 2010.32h-5M1504 1908.08h5M1857.6 1908.08h-5"/></g>
<polyline points="1504,2214.8 1531.2,2214.8 1558.4,2214.8 1585.6,2214.54 1612.8,2210.71 1640,2199.67 1667.2,2174.93 1694.4,2114.2 1721.6,2006.74 1748.8,1913.04 1776,1857.98 1803.2,1841.37 1830.4,1834.47 1857.6,1832.42" fill="none" stroke="#ff0000" stroke-width="4" stroke-linejoin="round" stroke-dasharray="16 16"/>
<polyline points="1504,2214.8 1531.2,2214.8 1558.4,2214.8 1585.6,2214.54 1612.8,2210.71 1640,2202.53 1667.2,2181.73 1694.4,2136.28 1721.6,2121.1 1748.8,2143.23 1776,2172.06 1803.2,2196.91 1830.4,2210.2 1857.6,2213.42" fill="none" stroke="#ff0000" stroke-width="4" stroke-linejoin="round" stroke-dasharray="16 16"/>
<polyline points="1504,2214.8 1531.2,2214.8 1558.4,2214.8 1585.6,2214.54 1612.8,2210.71 1640,2202.02 1667.2,2179.02 1694.4,2125.34 1721.6,2049.43 1748.8,1996.26 1776,1973.67 1803.2,1977.81 1830.4,1997.03 1857.6,2020.54" fill="none" stroke="#ff0000" stroke-width="4" stroke-linejoin="round" stroke-linecap="round"/>
<polyline points="1504,2214.8 1531.2,2214.8 1558.4,2214.8 1585.6,2214.8 1612.8,2209.94 1640,2205.91 1667.2,2160.87 1694.4,2131.99 1721.6,2124.83 1748.8,2129.94 1776,2138.12 1803.2,2171.14 1830.4,2190.67 1857.6,2204.88" fill="none" stroke="#000000" stroke-width="4" stroke-linejoin="round" stroke-linecap="round"/>
<line x1="1612.8" y1="2214.8" x2="1612.8" y2="1831.4" stroke="#000" stroke-width="4" stroke-dasharray="16 4.13 8 4.13"/>
<g font-size="26.8" fill="#000" stroke="#000" stroke-width="0.3"><text transform="translate(1494.4 2225.6) scale(1 1.07)" text-anchor="end">0</text><text transform="translate(1494.4 2123.36) scale(1 1.07)" text-anchor="end">200</text><text transform="translate(1494.4 2021.12) scale(1 1.07)" text-anchor="end">400</text><text transform="translate(1494.4 1918.88) scale(1 1.07)" text-anchor="end">600</text><text transform="translate(1531.2 2249.9) scale(1 1.07)" text-anchor="middle">2</text><text transform="translate(1667.2 2249.9) scale(1 1.07)" text-anchor="middle">7</text><text transform="translate(1803.2 2249.9) scale(1 1.07)" text-anchor="middle">12</text></g>
<text x="0" y="0" transform="translate(1438 2023.9) rotate(-90)" text-anchor="middle" font-size="41" fill="#000" stroke="#000" stroke-width="0.3">C</text>
<text transform="translate(1680.8 1821.6) scale(1 1.05)" text-anchor="middle" font-size="29.5" font-weight="bold" fill="#000">RMSE=209.147</text>
<text x="1680.8" y="2295" text-anchor="middle" font-size="40" fill="#000" stroke="#000" stroke-width="0.3">t (days)</text>
<g font-family="'Liberation Serif', 'Times New Roman', serif" font-size="36" fill="#000" stroke="#000" stroke-width="0.35"><text x="854.5" y="544.7">(a)</text><text x="909.2" y="544.7" font-style="italic" stroke-width="0.7">&#964;</text><text transform="translate(933.5 548.3) scale(1.39 1)">=</text><text x="986.6" y="544.7" text-anchor="middle">14</text></g>
<g font-family="'Liberation Serif', 'Times New Roman', serif" font-size="36" fill="#000" stroke="#000" stroke-width="0.35"><text x="862.4" y="1144.5">(b)</text><text x="919.2" y="1144.5" font-style="italic" stroke-width="0.7">&#964;</text><text transform="translate(943.2 1148.1) scale(1.39 1)">=</text><text x="988.2" y="1144.5" text-anchor="middle">9</text></g>
<g font-family="'Liberation Serif', 'Times New Roman', serif" font-size="36" fill="#000" stroke="#000" stroke-width="0.35"><text x="863.6" y="1743.9">(c)</text><text x="918.6" y="1743.9" font-style="italic" stroke-width="0.7">&#964;</text><text transform="translate(942 1747.5) scale(1.39 1)">=</text><text x="987" y="1743.9" text-anchor="middle">6</text></g>
<g font-family="'Liberation Serif', 'Times New Roman', serif" font-size="36" fill="#000" stroke="#000" stroke-width="0.35"><text x="862.4" y="2357.4">(d)</text><text x="919.2" y="2357.4" font-style="italic" stroke-width="0.7">&#964;</text><text transform="translate(943.2 2361) scale(1.39 1)">=</text><text x="987.7" y="2357.4" text-anchor="middle">5</text></g></svg>
</body></html>
